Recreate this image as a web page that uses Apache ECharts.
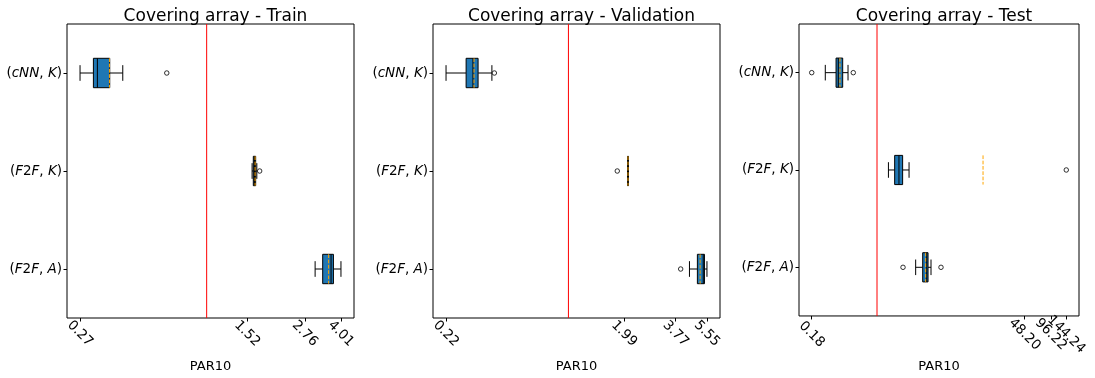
<!DOCTYPE html>
<html>
<head>
<meta charset="utf-8">
<script src="https://cdn.jsdelivr.net/npm/echarts@6/dist/echarts.min.js"></script>
<style>
  html, body { margin: 0; padding: 0; background: #fff; }
  #chart { width: 1095px; height: 378px; }
</style>
</head>
<body>
<div id="chart"></div>
<script>
// Row labels (top to bottom)
const categories = ['(cNN, K)', '(F2F, K)', '(F2F, A)'];

// Box statistics per row: [lower whisker, Q1, median, Q3, upper whisker]
const trainStats = [[0.27, 0.31, 0.323, 0.367, 0.42], [1.60, 1.62, 1.64, 1.66, 1.68], [3.07, 3.32, 3.62, 3.71, 4.01]];
const trainMeans = [0.366, 1.65, 3.53];
const trainOutliers = [[0.662], [1.73], []];
const trainTicks = ['0.27', '1.52', '2.76', '4.01'];

const valStats = [[0.22, 0.282, 0.307, 0.327, 0.388], [2.08, 2.08, 2.09, 2.10, 2.10], [4.47, 4.93, 5.30, 5.38, 5.55]];
const valMeans = [0.311, 2.09, 5.10];
const valOutliers = [[0.40], [1.83], [4.01]];
const valTicks = ['0.22', '1.99', '3.77', '5.55'];

const testStats = [[0.257, 0.341, 0.362, 0.406, 0.467], [1.35, 1.59, 1.78, 1.96, 2.32], [2.76, 3.32, 3.69, 3.82, 4.13]];
const testMeans = [0.378, 16.2, 3.59];
const testOutliers = [[0.18, 0.536], [144.24], [1.98, 5.37]];
const testTicks = ['0.18', '48.20', '96.22', '144.24'];

// PAR10 ratio of the reference solver
const referenceValue = 1;

const titles = ['Covering array - Train', 'Covering array - Validation', 'Covering array - Test'];

const panels = [
  { title: titles[0], stats: trainStats, means: trainMeans, outliers: trainOutliers, ticks: trainTicks, left: 67, width: 287 },
  { title: titles[1], stats: valStats, means: valMeans, outliers: valOutliers, ticks: valTicks, left: 433, width: 287 },
  { title: titles[2], stats: testStats, means: testMeans, outliers: testOutliers, ticks: testTicks, left: 799, width: 280 }
];

const FONT = 'DejaVu Sans';
const BOX_COLOR = '#1f77b4';
const MEAN_COLOR = '#ffa500';
const REF_COLOR = '#ff0000';
const GRID_TOP = 24, GRID_H = 299;
const LABEL_SIZE = 13.5;

// Math-style label: letters italic, punctuation and digits upright
function mathLabel(s) {
  return s.replace(/([A-Za-z]+)|([^A-Za-z]+)/g, (m, letters, other) =>
    letters ? '{i|' + letters + '}' : '{p|' + other + '}');
}

const grids = [], xAxes = [], yAxes = [], series = [], titleComps = [];

panels.forEach((p, k) => {
  const lnTicks = p.ticks.map(t => Math.log(Number(t)));
  const lo = lnTicks[0], hi = lnTicks[lnTicks.length - 1];
  const pad = 0.05 * (hi - lo);
  const maxLen = Math.max(...p.ticks.map(t => t.length));

  grids.push({
    left: p.left, top: GRID_TOP, width: p.width, height: GRID_H,
    show: true, borderColor: '#000', borderWidth: 1, backgroundColor: 'transparent'
  });

  titleComps.push({
    text: p.title, left: p.left + p.width / 2, top: 3, textAlign: 'center',
    textStyle: { fontFamily: FONT, fontSize: 17, fontWeight: 'normal', color: '#000' }
  });

  // Two stacked bottom axes (even / odd ticks) so that close labels are all kept
  [0, 1].forEach(parity => {
    const idx = lnTicks.map((t, i) => i).filter(i => i % 2 === parity);
    const vals = idx.map(i => lnTicks[i]);
    const axis = {
      gridIndex: k, type: 'value', position: 'bottom', offset: 0,
      min: lo - pad, max: hi + pad,
      axisLine: { show: false, onZero: false },
      splitLine: { show: false },
      axisTick: { show: true, length: 3.5, customValues: vals, lineStyle: { color: '#000' } },
      axisLabel: {
        customValues: vals,
        showMinLabel: true, showMaxLabel: true, hideOverlap: false,
        rotate: -45,
        align: 'center', verticalAlign: 'middle',
        margin: 10 + maxLen * 1.4,
        fontFamily: FONT, fontSize: LABEL_SIZE, color: '#000',
        formatter: v => {
          let best = 0;
          lnTicks.forEach((t, i) => { if (Math.abs(t - v) < Math.abs(lnTicks[best] - v)) best = i; });
          return p.ticks[best];
        }
      }
    };
    if (parity === 0) {
      axis.name = 'PAR10';
      axis.nameLocation = 'middle';
      axis.nameGap = 42;
      axis.nameTextStyle = { fontFamily: FONT, fontSize: 13, color: '#000' };
    }
    xAxes.push(axis);
  });
  const xi = 2 * k;

  yAxes.push({
    gridIndex: k, type: 'category', data: categories, inverse: true,
    axisLine: { show: false, onZero: false },
    axisTick: { show: true, alignWithLabel: true, length: 3.5, lineStyle: { color: '#000' } },
    axisLabel: {
      margin: 5, fontFamily: FONT, fontSize: LABEL_SIZE, color: '#000',
      formatter: v => mathLabel(v),
      rich: {
        i: { fontFamily: FONT, fontSize: LABEL_SIZE, fontStyle: 'italic', color: '#000' },
        p: { fontFamily: FONT, fontSize: LABEL_SIZE, color: '#000' }
      }
    }
  });

  // Boxes: [row, low, q1, median, q3, high, mean] in log space
  const boxData = p.stats.map((s, i) => [i, ...s.map(Math.log), Math.log(p.means[i])]);
  series.push({
    type: 'custom', xAxisIndex: xi, yAxisIndex: k,
    encode: { x: [1, 2, 3, 4, 5, 6], y: 0 },
    data: boxData,
    silent: true,
    renderItem: (params, api) => {
      const row = api.value(0);
      const band = api.size([0, 1])[1];
      const hb = band * 0.15, hc = band * 0.08;
      const pt = d => api.coord([api.value(d), row]);
      const [lw, q1, md, q3, hw, mn] = [1, 2, 3, 4, 5, 6].map(pt);
      const y = lw[1];
      const line = (x1, y1, x2, y2, style) => ({ type: 'line', shape: { x1, y1, x2, y2 }, style });
      const black = { stroke: '#000', lineWidth: 1 };
      return {
        type: 'group',
        children: [
          line(lw[0], y, q1[0], y, black),
          line(q3[0], y, hw[0], y, black),
          line(lw[0], y - hc, lw[0], y + hc, black),
          line(hw[0], y - hc, hw[0], y + hc, black),
          { type: 'rect', shape: { x: q1[0], y: y - hb, width: Math.max(q3[0] - q1[0], 0.5), height: 2 * hb },
            style: { fill: BOX_COLOR, stroke: '#000', lineWidth: 1 } },
          line(md[0], y - hb, md[0], y + hb, black),
          line(mn[0], y - hb, mn[0], y + hb, { stroke: MEAN_COLOR, lineWidth: 1, lineDash: [3.7, 1.6] })
        ]
      };
    }
  });

  // Vertical reference line across the plot area
  series.push({
    type: 'custom', xAxisIndex: xi, yAxisIndex: k,
    encode: { x: 0 },
    data: [[Math.log(referenceValue)]],
    silent: true, z: 1,
    renderItem: (params, api) => {
      const cs = params.coordSys;
      const x = api.coord([api.value(0), 0])[0];
      return { type: 'line', shape: { x1: x, y1: cs.y, x2: x, y2: cs.y + cs.height },
        style: { stroke: REF_COLOR, lineWidth: 1 } };
    }
  });

  // Outliers
  const outData = [];
  p.outliers.forEach((arr, i) => arr.forEach(v => outData.push([Math.log(v), i])));
  series.push({
    type: 'scatter', xAxisIndex: xi, yAxisIndex: k,
    data: outData, symbol: 'circle', symbolSize: 4.5, silent: true,
    itemStyle: { color: '#fff', borderColor: '#000', borderWidth: 1 },
    z: 5
  });
});

const chart = echarts.init(document.getElementById('chart'), null, { renderer: 'canvas' });
chart.setOption({
  backgroundColor: '#fff',
  animation: false,
  title: titleComps,
  grid: grids,
  xAxis: xAxes,
  yAxis: yAxes,
  series: series
});
</script>
</body>
</html>
